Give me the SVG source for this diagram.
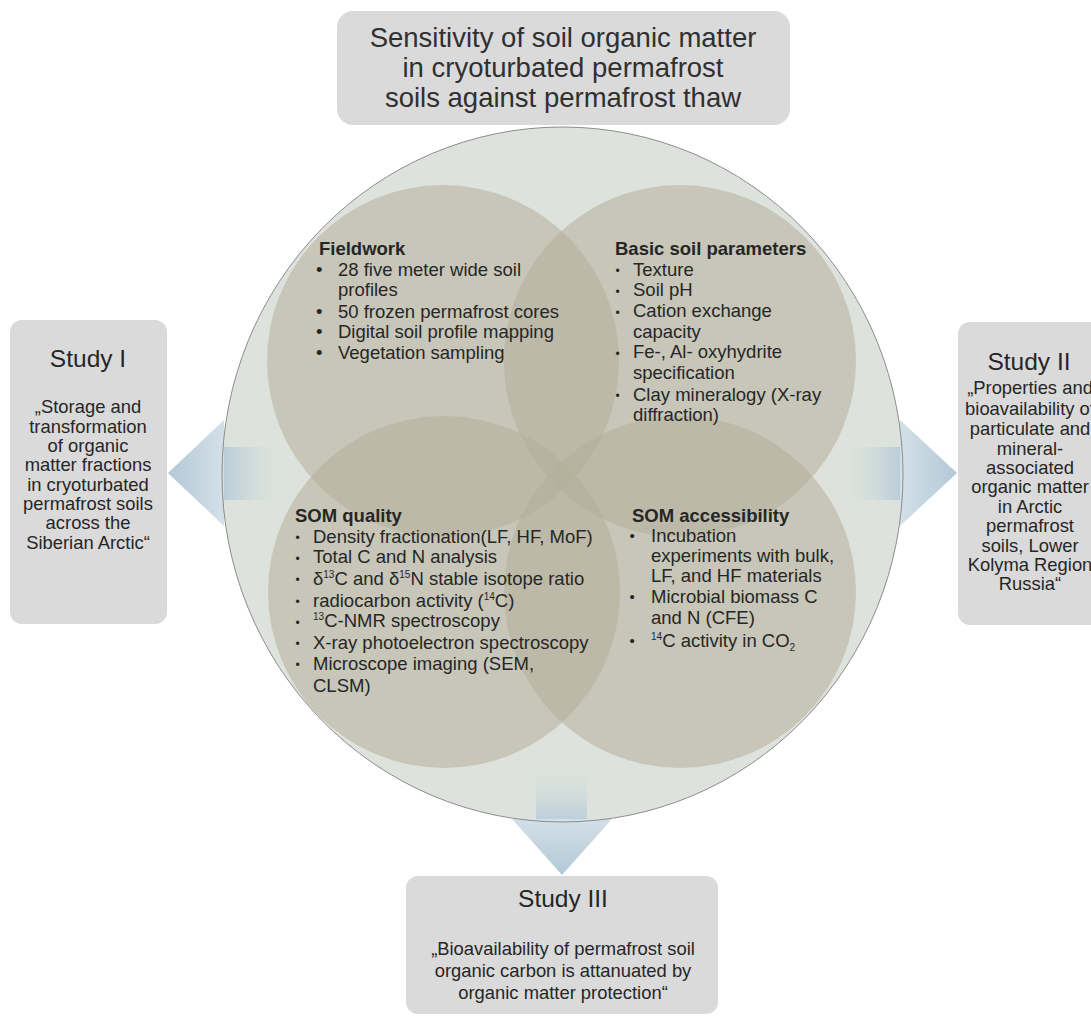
<svg xmlns="http://www.w3.org/2000/svg" width="1091" height="1016" viewBox="0 0 1091 1016">
<defs>
<style>
.t{font-family:"Liberation Sans",Arial,sans-serif;fill:#262626}
.title{font-size:27.5px;text-anchor:middle;fill:#303030}
.st{font-size:24.5px;text-anchor:middle}
.q{font-size:18.4px;text-anchor:middle}
.h{font-size:18.5px;font-weight:bold}
.i{font-size:18.5px}
.bl{font-size:18.5px}
.bs{font-size:12px}
.bm{font-size:15px}
.sup{font-size:10px}
.box{fill:#dadada}
.sm{fill:#b5ae9a;fill-opacity:0.55}
</style>
<linearGradient id="shL" gradientUnits="userSpaceOnUse" x1="224" y1="0" x2="290" y2="0">
<stop offset="0" stop-color="#b9cdd9"/>
<stop offset="1" stop-color="#dde3dc" stop-opacity="0"/>
</linearGradient>
<linearGradient id="shR" gradientUnits="userSpaceOnUse" x1="900" y1="0" x2="838" y2="0">
<stop offset="0" stop-color="#b9cdd9"/>
<stop offset="1" stop-color="#dde3dc" stop-opacity="0"/>
</linearGradient>
<linearGradient id="shB" gradientUnits="userSpaceOnUse" x1="0" y1="822" x2="0" y2="760">
<stop offset="0" stop-color="#b9cdd9"/>
<stop offset="1" stop-color="#dde3dc" stop-opacity="0"/>
</linearGradient>
<linearGradient id="trL" gradientUnits="userSpaceOnUse" x1="224" y1="0" x2="168" y2="0">
<stop offset="0" stop-color="#d3e0e8"/>
<stop offset="1" stop-color="#b3c8d6"/>
</linearGradient>
<linearGradient id="trR" gradientUnits="userSpaceOnUse" x1="900" y1="0" x2="957" y2="0">
<stop offset="0" stop-color="#d3e0e8"/>
<stop offset="1" stop-color="#b3c8d6"/>
</linearGradient>
<linearGradient id="trB" gradientUnits="userSpaceOnUse" x1="0" y1="819" x2="0" y2="875">
<stop offset="0" stop-color="#d3e0e8"/>
<stop offset="1" stop-color="#b3c8d6"/>
</linearGradient>
</defs>

<g id="title-node">
<rect class="box" x="337" y="11" width="453" height="114" rx="16" fill="#dddddd"/>
<text class="t title" x="563" y="47">Sensitivity of soil organic matter</text>
<text class="t title" x="563" y="77">in cryoturbated permafrost</text>
<text class="t title" x="563" y="107">soils against permafrost thaw</text>
</g>

<g id="study1">
<rect class="box" x="10" y="320" width="157" height="304" rx="12"/>
<text class="t st" x="88" y="367">Study I</text>
<text class="t q" x="88" y="413">„Storage and</text>
<text class="t q" x="88" y="433">transformation</text>
<text class="t q" x="88" y="452">of organic</text>
<text class="t q" x="88" y="471">matter fractions</text>
<text class="t q" x="88" y="491">in cryoturbated</text>
<text class="t q" x="88" y="510">permafrost soils</text>
<text class="t q" x="88" y="529">across the</text>
<text class="t q" x="88" y="549">Siberian Arctic“</text>
</g>

<g id="study2">
<rect class="box" x="958" y="322" width="150" height="303" rx="12"/>
<text class="t st" x="1029" y="370">Study II</text>
<text class="t q" x="1030" y="394">„Properties and</text>
<text class="t q" x="1030" y="415">bioavailability of</text>
<text class="t q" x="1030" y="435">particulate and</text>
<text class="t q" x="1030" y="455">mineral-</text>
<text class="t q" x="1030" y="474">associated</text>
<text class="t q" x="1030" y="493">organic matter</text>
<text class="t q" x="1030" y="513">in Arctic</text>
<text class="t q" x="1030" y="532">permafrost</text>
<text class="t q" x="1030" y="552">soils, Lower</text>
<text class="t q" x="1030" y="571">Kolyma Region</text>
<text class="t q" x="1030" y="590">Russia“</text>
</g>

<g id="study3">
<rect class="box" x="406" y="876" width="312" height="138" rx="12"/>
<text class="t st" x="563" y="907">Study III</text>
<text class="t q" x="563" y="955">„Bioavailability of permafrost soil</text>
<text class="t q" x="563" y="977">organic carbon is attanuated by</text>
<text class="t q" x="563" y="999">organic matter protection“</text>
</g>

<g id="main-circle">
<ellipse cx="562.5" cy="474.5" rx="340.5" ry="347.5" fill="#dde3dc"/>
</g>

<g id="fieldwork-circle"><circle class="sm" cx="443" cy="361" r="176"/></g>
<g id="basic-circle"><circle class="sm" cx="680" cy="361" r="176"/></g>
<g id="quality-circle"><circle class="sm" cx="444" cy="592" r="176"/></g>
<g id="access-circle"><circle class="sm" cx="680" cy="592" r="176"/></g>

<g id="connectors">
<rect x="224" y="447" width="66" height="53" fill="url(#shL)"/>
<polygon points="224,420 224,526 168,473" fill="url(#trL)"/>
<rect x="838" y="447" width="62" height="53" fill="url(#shR)"/>
<polygon points="900,420 900,526 957,473" fill="url(#trR)"/>
<rect x="536" y="760" width="51" height="62" fill="url(#shB)"/>
<polygon points="512,819 612,819 562,875" fill="url(#trB)"/>
</g>

<ellipse cx="562.5" cy="474.5" rx="340.5" ry="347.5" fill="none" stroke="#8c8c8c" stroke-width="1"/>

<g id="fieldwork-text">
<text class="t h" x="319" y="255">Fieldwork</text>
<text class="t bl" x="316" y="276">•</text>
<text class="t bl" x="316" y="318">•</text>
<text class="t bl" x="316" y="338">•</text>
<text class="t bl" x="316" y="359">•</text>
<text class="t i" x="338" y="276">28 five meter wide soil</text>
<text class="t i" x="338" y="296">profiles</text>
<text class="t i" x="338" y="318">50 frozen permafrost cores</text>
<text class="t i" x="338" y="338">Digital soil profile mapping</text>
<text class="t i" x="338" y="359">Vegetation sampling</text>
</g>

<g id="basic-text">
<text class="t h" x="615" y="255">Basic soil parameters</text>
<text class="t bs" x="615.5" y="275">•</text>
<text class="t bs" x="615.5" y="296">•</text>
<text class="t bs" x="615.5" y="317">•</text>
<text class="t bs" x="615.5" y="358">•</text>
<text class="t bs" x="615.5" y="400">•</text>
<text class="t i" x="633" y="276">Texture</text>
<text class="t i" x="633" y="296">Soil pH</text>
<text class="t i" x="633" y="317">Cation exchange</text>
<text class="t i" x="633" y="338">capacity</text>
<text class="t i" x="633" y="358">Fe-, Al- oxyhydrite</text>
<text class="t i" x="633" y="379">specification</text>
<text class="t i" x="633" y="401">Clay mineralogy (X-ray</text>
<text class="t i" x="633" y="421">diffraction)</text>
</g>

<g id="quality-text">
<text class="t h" x="295" y="522">SOM quality</text>
<text class="t bs" x="295.5" y="542">•</text>
<text class="t bs" x="295.5" y="563">•</text>
<text class="t bs" x="295.5" y="584">•</text>
<text class="t bs" x="295.5" y="606">•</text>
<text class="t bs" x="295.5" y="627">•</text>
<text class="t bs" x="295.5" y="648">•</text>
<text class="t bs" x="295.5" y="669">•</text>
<text class="t i" x="313" y="543">Density fractionation(LF, HF, MoF)</text>
<text class="t i" x="313" y="563">Total C and N analysis</text>
<text class="t i" x="313" y="585">δ<tspan class="sup" dy="-7">13</tspan><tspan dy="7">C and δ</tspan><tspan class="sup" dy="-7">15</tspan><tspan dy="7">N stable isotope ratio</tspan></text>
<text class="t i" x="313" y="607">radiocarbon activity (<tspan class="sup" dy="-7">14</tspan><tspan dy="7">C)</tspan></text>
<text class="t i" x="313" y="627"><tspan class="sup" dy="-7">13</tspan><tspan dy="7">C-NMR spectroscopy</tspan></text>
<text class="t i" x="313" y="649">X-ray photoelectron spectroscopy</text>
<text class="t i" x="313" y="670">Microscope imaging (SEM,</text>
<text class="t i" x="313" y="692">CLSM)</text>
</g>

<g id="access-text">
<text class="t h" x="632" y="522">SOM accessibility</text>
<text class="t bm" x="629.5" y="541">•</text>
<text class="t bm" x="629.5" y="602">•</text>
<text class="t bm" x="629.5" y="646">•</text>
<text class="t i" x="651" y="542">Incubation</text>
<text class="t i" x="651" y="562">experiments with bulk,</text>
<text class="t i" x="651" y="582">LF, and HF materials</text>
<text class="t i" x="651" y="603">Microbial biomass C</text>
<text class="t i" x="651" y="624">and N (CFE)</text>
<text class="t i" x="651" y="647"><tspan class="sup" dy="-7">14</tspan><tspan dy="7">C activity in CO</tspan><tspan class="sup" dy="4">2</tspan></text>
</g>
</svg>
